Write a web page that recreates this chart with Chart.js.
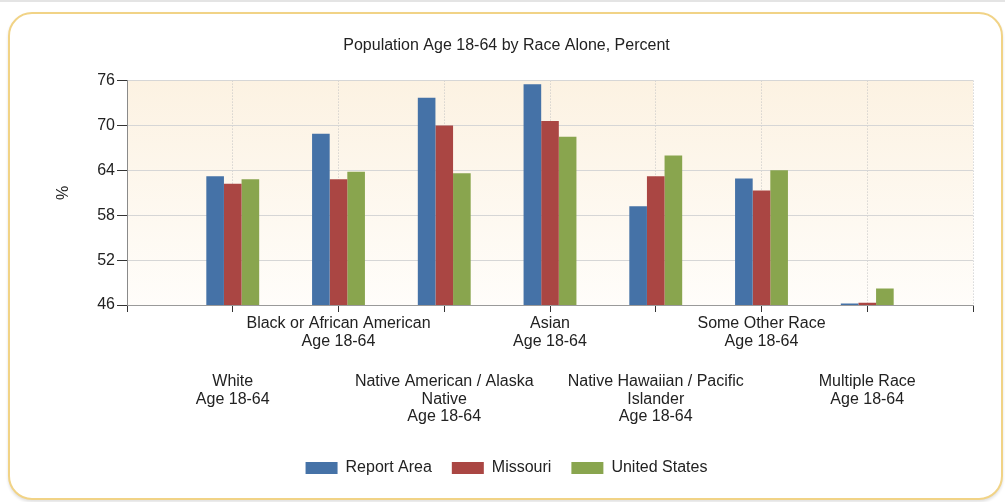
<!DOCTYPE html>
<html>
<head>
<meta charset="utf-8">
<title>Population Age 18-64 by Race Alone, Percent</title>
<script src="https://cdn.jsdelivr.net/npm/chart.js@4/dist/chart.umd.min.js"></script>
<style>
  html, body { margin: 0; padding: 0; background: #fff; }
  body { width: 1005px; height: 502px; position: relative; overflow: hidden; }
  .topline { position: absolute; left: 0; top: 0; width: 1005px; height: 2px; background: #e4e4e4; }
  .frame {
    position: absolute; left: 8px; top: 12px; width: 991px; height: 484px;
    border: 2px solid #f1d386; border-radius: 24px;
    box-shadow: 0 2px 3px rgba(0,0,0,0.12); background: #fff;
  }
  .wrap { position: absolute; left: 0; top: 0; width: 1005px; height: 502px; }
</style>
</head>
<body>
<div class="topline"></div>
<div class="frame"></div>
<div class="wrap"><canvas id="chart" width="1005" height="502"></canvas></div>

<script>
/* ─── DATA ─────────────────────────────────────────────── */
const categories = [
  ['White', 'Age 18-64'],
  ['Black or African American', 'Age 18-64'],
  ['Native American / Alaska', 'Native', 'Age 18-64'],
  ['Asian', 'Age 18-64'],
  ['Native Hawaiian / Pacific', 'Islander', 'Age 18-64'],
  ['Some Other Race', 'Age 18-64'],
  ['Multiple Race', 'Age 18-64']
];
const reportArea   = [63.2, 68.9, 73.7, 75.5, 59.2, 62.9, 46.2];
const missouri     = [62.2, 62.8, 70.0, 70.6, 63.2, 61.3, 46.3];
const unitedStates = [62.8, 63.8, 63.6, 68.5, 66.0, 64.0, 48.2];
const yTicks = [46, 52, 58, 64, 70, 76];

// empty slot at each end of the axis, like the original
const labels = [''].concat(categories, ['']);
const pad = arr => [null].concat(arr, [null]);

const FONT = { family: "'Liberation Sans', Arial, sans-serif", size: 16, lineHeight: 1.1 };
const TEXT = '#222';

/* ─── PLOT BACKGROUND ──────────────────────────────────── */
const plotBg = {
  id: 'plotBg',
  beforeDraw(chart) {
    const { ctx, chartArea: a } = chart;
    const g = ctx.createLinearGradient(0, a.top, 0, a.bottom);
    g.addColorStop(0, '#fcf2e2');
    g.addColorStop(1, '#fffdfa');
    ctx.save();
    ctx.fillStyle = g;
    ctx.fillRect(a.left, a.top, a.right - a.left, a.bottom - a.top);
    ctx.restore();
  }
};

new Chart(document.getElementById('chart'), {
  type: 'bar',
  data: {
    labels,
    datasets: [
      { label: 'Report Area',   data: pad(reportArea),   backgroundColor: '#4572a7' },
      { label: 'Missouri',      data: pad(missouri),     backgroundColor: '#aa4643' },
      { label: 'United States', data: pad(unitedStates), backgroundColor: '#89a54e' }
    ]
  },
  plugins: [plotBg],
  options: {
    responsive: false,
    animation: false,
    devicePixelRatio: 1,
    categoryPercentage: 0.5,
    barPercentage: 1.0,
    layout: { padding: { top: 10, left: 40, right: 32, bottom: 16 } },
    plugins: {
      title: {
        display: true,
        text: 'Population Age 18-64 by Race Alone, Percent',
        color: TEXT,
        font: { ...FONT, weight: 'normal' },
        padding: { top: 27, bottom: 26 }
      },
      legend: {
        position: 'bottom',
        labels: {
          boxWidth: 32,
          boxHeight: 12,
          padding: 20,
          color: TEXT,
          font: FONT
        }
      },
      tooltip: { enabled: false }
    },
    scales: {
      x: {
        type: 'category',
        position: 'bottom',
        offset: false,
        grid: {
          offset: false,
          color: ctx => ctx.index === 0 ? 'rgba(0,0,0,0)' : '#c4c4c4',
          tickColor: '#333',
          tickLength: 7,
          tickBorderDash: []
        },
        border: { display: true, color: '#9a9a9a', dash: [1, 2] },
        ticks: {
          autoSkip: false,
          maxRotation: 0,
          minRotation: 0,
          padding: 3,
          color: TEXT,
          font: FONT,
          callback: function (v, i) {
            return (i % 2 === 0 && i > 0 && i < labels.length - 1) ? this.getLabelForValue(v) : '';
          }
        },
        afterFit: s => { s.height = 45; }
      },
      x2: {
        type: 'category',
        position: 'bottom',
        labels,
        offset: false,
        grid: { display: false, drawTicks: false, offset: false },
        border: { display: false },
        ticks: {
          autoSkip: false,
          maxRotation: 0,
          minRotation: 0,
          padding: 23,
          color: TEXT,
          font: FONT,
          callback: function (v, i) {
            return (i % 2 === 1) ? this.getLabelForValue(v) : '';
          }
        },
        afterFit: s => { s.height = 90; }
      },
      y: {
        min: 46,
        max: 76,
        grid: { color: '#d6d6d6', tickColor: '#333', tickLength: 10 },
        border: { display: true, color: '#8a8a8a' },
        ticks: { padding: 2, color: TEXT, font: FONT },
        afterBuildTicks: s => { s.ticks = yTicks.map(v => ({ value: v })); },
        title: {
          display: true,
          text: '%',
          color: TEXT,
          font: FONT,
          padding: { top: 15, bottom: 0 }
        },
        afterFit: s => { s.width = 87; }
      }
    }
  }
});
</script>
</body>
</html>
